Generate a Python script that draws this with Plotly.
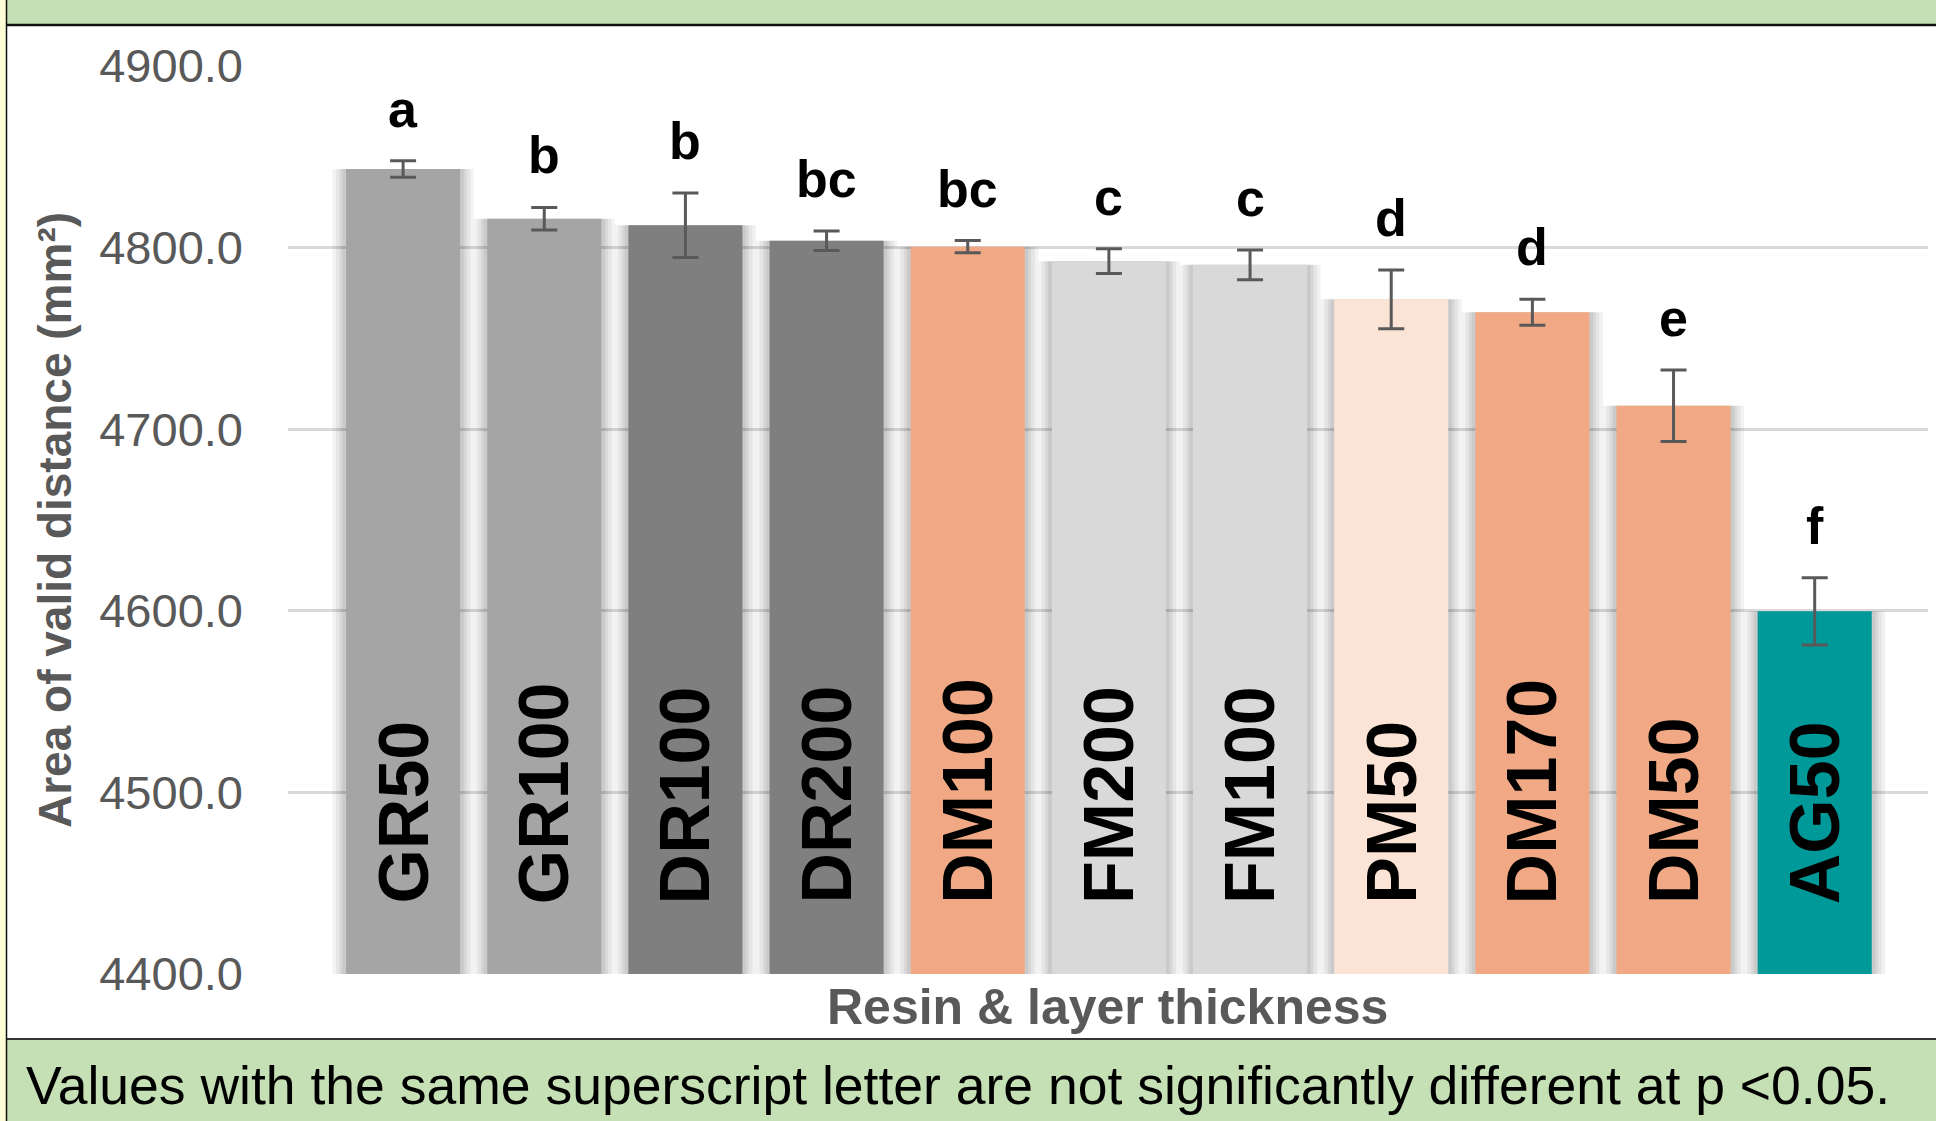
import plotly.graph_objects as go

# ---- data ----
categories = ["GR50", "GR100", "DR100", "DR200", "DM100", "FM200", "FM100", "PM50", "DM170", "DM50", "AG50"]
values = [4843.3, 4815.9, 4812.3, 4803.8, 4800.5, 4792.5, 4790.5, 4771.5, 4764.4, 4712.9, 4599.7]
errors = [4.5, 6.2, 17.8, 5.4, 3.4, 6.8, 8.2, 16.2, 7.2, 19.7, 18.5]
letters = ["a", "b", "b", "bc", "bc", "c", "c", "d", "d", "e", "f"]
colors = ["#A5A5A5", "#A5A5A5", "#7F7F7F", "#7F7F7F", "#F0A984", "#D9D9D9", "#D9D9D9",
          "#FBE3D5", "#F0A984", "#F0A984", "#00999A"]
y_ticks = [4400, 4500, 4600, 4700, 4800, 4900]

# ---- layout geometry (pixels) ----
W, H = 1936, 1121
L, R, T, B = 288, 1928, 66, 974
step = 141.16
first_center = 403.1
x_lo = -(first_center - L) / step
x_hi = x_lo + (R - L) / step


def px_x(x):
    return (x - L) / (R - L)


def px_y(y):
    return (B - y) / (B - T)


FONT = "Arial, 'Liberation Sans', sans-serif"

fig = go.Figure()

# soft shadows behind bars
for w, a in [(1.0, 0.05), (0.95, 0.05), (0.90, 0.06), (0.86, 0.06)]:
    fig.add_trace(go.Bar(
        x=categories, y=values, width=w,
        marker=dict(color=f"rgba(0,0,0,{a})", line=dict(width=0)),
        hoverinfo="skip", showlegend=False,
    ))

fig.add_trace(go.Bar(
    x=categories, y=values, width=0.808,
    marker=dict(color=colors, line=dict(width=0)),
    error_y=dict(type="data", array=errors, color="#595959", thickness=3, width=13),
    showlegend=False,
))

annotations = []
for c, v, e, lt in zip(categories, values, errors, letters):
    annotations.append(dict(
        x=c, y=v + e, xref="x", yref="y", text=f"<b>{lt}</b>", showarrow=False,
        yanchor="middle", xanchor="center", yshift=52,
        font=dict(family=FONT, size=52, color="#000000"),
    ))
    annotations.append(dict(
        x=c, y=y_ticks[0], xref="x", yref="y", text=f"<b>{c}</b>", showarrow=False,
        textangle=-90, yanchor="bottom", xanchor="center", yshift=68,
        font=dict(family=FONT, size=70, color="#000000"),
    ))

annotations += [
    dict(x=px_x(55), y=px_y(520), xref="paper", yref="paper",
         text="<b>Area of valid distance (mm²)</b>", textangle=-90, showarrow=False,
         xanchor="center", yanchor="middle",
         font=dict(family=FONT, size=46, color="#595959")),
    dict(x=px_x(1107), y=px_y(1007), xref="paper", yref="paper",
         text="<b>Resin &amp; layer thickness</b>", showarrow=False,
         xanchor="center", yanchor="middle",
         font=dict(family=FONT, size=50, color="#595959")),
    dict(x=px_x(24), y=px_y(1085), xref="paper", yref="paper",
         text="Values with the same superscript letter are not significantly different at p <0.05.",
         showarrow=False, xanchor="left", yanchor="middle",
         font=dict(family=FONT, size=53.5, color="#000000")),
]

shapes = [
    # top green band + dark rule
    dict(type="rect", xref="paper", yref="paper", x0=px_x(0), x1=px_x(W), y0=px_y(24), y1=px_y(0),
         fillcolor="#C5E0B4", line=dict(width=0), layer="below"),
    dict(type="line", xref="paper", yref="paper", x0=px_x(6), x1=px_x(W), y0=px_y(25), y1=px_y(25),
         line=dict(color="#111111", width=2.5)),
    # bottom green band + dark rule
    dict(type="rect", xref="paper", yref="paper", x0=px_x(0), x1=px_x(W), y0=px_y(H), y1=px_y(1039),
         fillcolor="#C5E0B4", line=dict(width=0), layer="below"),
    dict(type="line", xref="paper", yref="paper", x0=px_x(6), x1=px_x(W), y0=px_y(1039), y1=px_y(1039),
         line=dict(color="#333333", width=2)),
    # left pale strip + border
    dict(type="rect", xref="paper", yref="paper", x0=px_x(0), x1=px_x(6), y0=px_y(H), y1=px_y(0),
         fillcolor="#FDFDD8", line=dict(width=0)),
    dict(type="line", xref="paper", yref="paper", x0=px_x(6.5), x1=px_x(6.5), y0=px_y(H), y1=px_y(0),
         line=dict(color="#111111", width=1.5)),
]

fig.update_layout(
    width=W, height=H,
    margin=dict(l=L, r=W - R, t=T, b=H - B),
    paper_bgcolor="#FFFFFF", plot_bgcolor="#FFFFFF",
    barmode="overlay",
    showlegend=False,
    annotations=annotations,
    shapes=shapes,
    font=dict(family=FONT),
)
fig.update_xaxes(type="category", range=[x_lo, x_hi], showticklabels=False, showgrid=False,
                 zeroline=False, showline=False, ticks="")
fig.update_yaxes(range=[4400, 4900], tickvals=y_ticks, tickformat=".1f", showgrid=True,
                 gridcolor="#D9D9D9", gridwidth=3, zeroline=False, showline=False, ticks="",
                 ticklabelstandoff=44, tickfont=dict(family=FONT, size=47, color="#595959"))

fig.write_html(
    "out.html",
    config={"displayModeBar": False},
    post_script="document.body.style.margin='0px';document.body.style.overflow='hidden';",
)
